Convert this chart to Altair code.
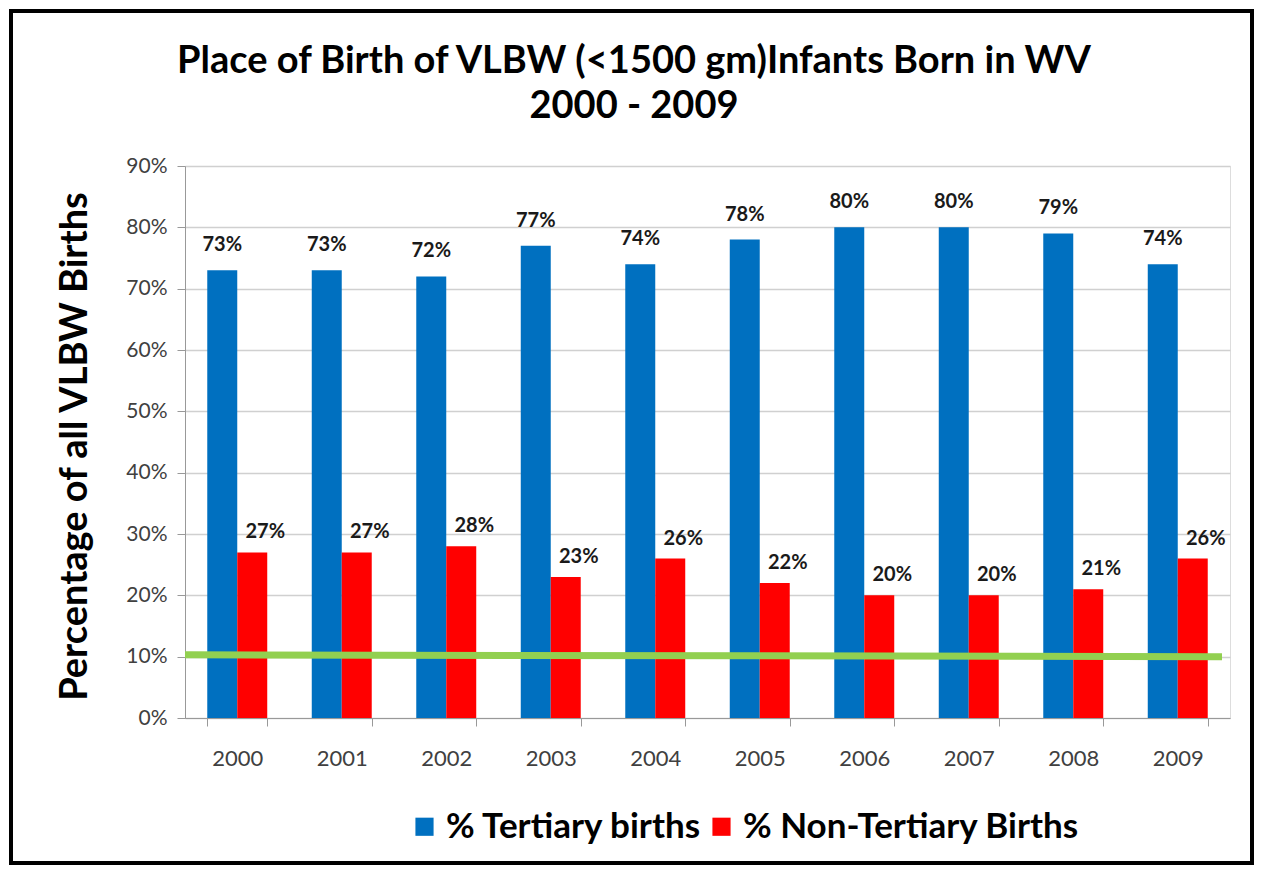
import altair as alt
import pandas as pd

title_lines = ["Place of Birth of VLBW (<1500 gm)Infants Born in WV", "2000 - 2009"]
y_title = "Percentage of all VLBW Births"
years = ["2000", "2001", "2002", "2003", "2004", "2005", "2006", "2007", "2008", "2009"]
tertiary = [73, 73, 72, 77, 74, 78, 80, 80, 79, 74]
non_tertiary = [27, 27, 28, 23, 26, 22, 20, 20, 21, 26]
series_names = ["% Tertiary births", "% Non-Tertiary Births"]
series_colors = ["#0070C0", "#FF0000"]
benchmark = [10.3, 10.0]  # green reference line, left / right end (%)

rows = []
for i, y in enumerate(years):
    rows.append({"year": y, "series": series_names[0], "value": tertiary[i] / 100})
    rows.append({"year": y, "series": series_names[1], "value": non_tertiary[i] / 100})
df = pd.DataFrame(rows)

W, H = 1045, 552
FONT = "Lato"

x_enc = alt.X("year:N", sort=years,
              scale=alt.Scale(paddingInner=0.426, paddingOuter=0.213),
              axis=alt.Axis(title=None, labelFontSize=22, labelColor="#404040", labelFont=FONT,
                            labelAngle=0, labelPadding=22, tickBand="extent", tickSize=8,
                            tickColor="#999999", domainColor="#999999", grid=False))
y_scale = alt.Scale(domain=[0, 0.9])
color_enc = alt.Color("series:N", sort=series_names,
                      scale=alt.Scale(domain=series_names, range=series_colors),
                      legend=alt.Legend(title=None, orient="none", legendX=222, legendY=643,
                                        direction="horizontal", symbolType="square",
                                        symbolSize=330, symbolStrokeWidth=0, symbolOffset=0,
                                        labelFontSize=35, labelFont=FONT, labelFontWeight="bold",
                                        labelColor="#000000", columnPadding=2, labelLimit=500))

bars = alt.Chart(df).mark_bar().encode(
    x=x_enc,
    xOffset=alt.XOffset("series:N", sort=series_names),
    y=alt.Y("value:Q", scale=y_scale,
            axis=alt.Axis(title=y_title, format=".0%", values=[i / 10 for i in range(10)],
                          labelFontSize=21, labelColor="#404040", labelFont=FONT, labelPadding=10,
                          tickSize=8, tickColor="#999999", domainColor="#999999",
                          gridColor="#d0d0d0", gridWidth=1.5,
                          titleFontSize=38, titleFont=FONT, titleFontWeight="bold", titleColor="#000000",
                          titleAngle=-90, titleX=-110, titleY=H / 2 + 4, titleAlign="center",
                          titleBaseline="middle")),
    color=color_enc,
)

lab_t = alt.Chart(df).transform_filter(alt.datum.series == series_names[0]).mark_text(
    dy=-25, fontSize=20, fontWeight="bold", font=FONT, color="#1a1a1a"
).encode(x=alt.X("year:N", sort=years), xOffset=alt.XOffset("series:N", sort=series_names),
         y="value:Q", text=alt.Text("value:Q", format=".0%"))

lab_n = alt.Chart(df).transform_filter(alt.datum.series == series_names[1]).mark_text(
    dy=-20, dx=13, fontSize=20, fontWeight="bold", font=FONT, color="#1a1a1a"
).encode(x=alt.X("year:N", sort=years), xOffset=alt.XOffset("series:N", sort=series_names),
         y="value:Q", text=alt.Text("value:Q", format=".0%"))

bench_df = pd.DataFrame({"y1": [benchmark[0] / 100], "y2": [benchmark[1] / 100]})
green = alt.Chart(bench_df).mark_rule(color="#92D050", strokeWidth=7).encode(
    x=alt.value(0), x2=alt.value(W - 8),
    y=alt.Y("y1:Q", scale=y_scale), y2="y2:Q")

title1 = alt.Chart(bench_df).mark_text(fontSize=38, font=FONT, fontWeight="bold", color="#000000",
                                       baseline="middle", align="center").encode(
    x=alt.value(449), y=alt.value(-104), text=alt.value(title_lines[0]))
title2 = alt.Chart(bench_df).mark_text(fontSize=38, font=FONT, fontWeight="bold", color="#000000",
                                       baseline="middle", align="center").encode(
    x=alt.value(449), y=alt.value(-59), text=alt.value(title_lines[1]))

border = alt.Chart(bench_df).mark_rect(fill=None, stroke="#000000", strokeWidth=4).encode(
    x=alt.value(-174), x2=alt.value(W + 22), y=alt.value(-155), y2=alt.value(H + 145))

chart = alt.layer(bars, green, lab_t, lab_n, title1, title2, border).properties(
    width=W, height=H,
    autosize=alt.AutoSizeParams(type="none"),
    padding={"left": 177, "top": 158, "right": 25, "bottom": 152},
).configure_view(stroke=None).configure(background="#ffffff")

chart.save("out.html", embed_options={"renderer": "svg", "actions": False})
